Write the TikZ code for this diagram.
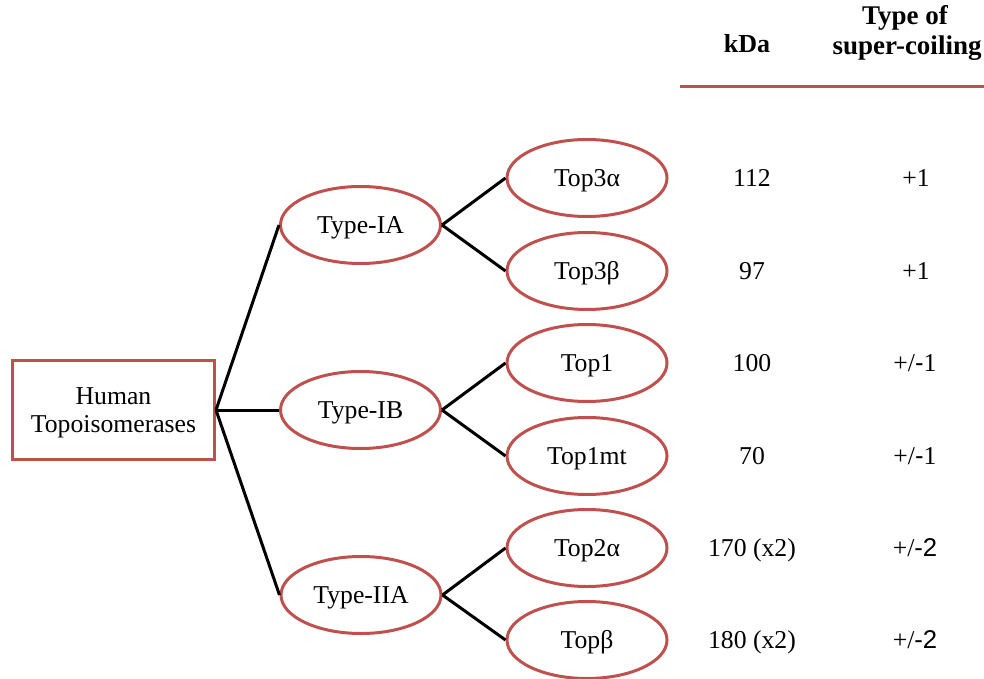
\documentclass[tikz,border=0pt]{standalone}
\usepackage{fontspec}
\setmainfont{Liberation Serif}
\newfontfamily\sansf{Liberation Sans}
\usetikzlibrary{shapes.geometric}
\definecolor{boxred}{HTML}{C0504D}
\begin{document}
\begin{tikzpicture}[x=1pt,y=-1pt,
  txt/.style={font=\fontsize{25.7}{30}\selectfont, inner sep=0pt, text height=17pt, text depth=0pt},
  rootbox/.style={draw=boxred, line width=3pt, rectangle, minimum width=202pt, minimum height=99pt, align=center, inner sep=0pt, text depth=0pt, font=\fontsize{25.7}{28}\selectfont},
  ell/.style={draw=boxred, line width=3pt, ellipse, minimum width=160pt, minimum height=77pt, inner sep=0pt, text height=17pt, text depth=0pt, font=\fontsize{25.7}{30}\selectfont},
  conn/.style={line width=3pt, black},
  hdr/.style={font=\bfseries\fontsize{27}{30}\selectfont, inner sep=0pt, anchor=base, align=center}
]
\useasboundingbox (0,0) rectangle (984,679);

\node[rootbox] (root) at (113.5,410) {Human\\Topoisomerases};

\node[ell] (ia) at (360.5,225) {Type-IA};
\node[ell] (ib) at (360.5,410) {Type-IB};
\node[ell] (iia) at (361,595) {Type-IIA};

\node[ell] (t3a) at (587,178) {Top3α};
\node[ell] (t3b) at (587,271) {Top3β};
\node[ell] (t1) at (587,363) {Top1};
\node[ell] (t1mt) at (587,456) {Top1mt};
\node[ell] (t2a) at (587,548) {Top2α};
\node[ell] (tb) at (587,640) {Topβ};

\draw[conn] (root.east) -- (ia.west);
\draw[conn] (root.east) -- (ib.west);
\draw[conn] (root.east) -- (iia.west);
\draw[conn] (ia.east) -- (t3a.west);
\draw[conn] (ia.east) -- (t3b.west);
\draw[conn] (ib.east) -- (t1.west);
\draw[conn] (ib.east) -- (t1mt.west);
\draw[conn] (iia.east) -- (t2a.west);
\draw[conn] (iia.east) -- (tb.west);

\node[hdr, font=\bfseries\fontsize{26}{30}\selectfont] (kda) at (747,53) {kDa};
\node[hdr] (toc) at (905,25) {Type of};
\node[hdr] (sc) at (907,55) {super-coiling};
\coordinate (ruleL) at (680,87);
\coordinate (ruleR) at (984,87);
\draw[boxred, line width=3pt] (ruleL) -- (ruleR);

\node[txt] (k1) at (752,178) {112};
\node[txt] (k2) at (752,271) {97};
\node[txt] (k3) at (752,363) {100};
\node[txt] (k4) at (752,456) {70};
\node[txt] (k5) at (752,548) {170 (x2)};
\node[txt] (k6) at (752,640) {180 (x2)};

\node[txt] (s1) at (916,178) {+1};
\node[txt] (s2) at (916,271) {+1};
\node[txt] (s3) at (915,363) {+/{\sansf -}1};
\node[txt] (s4) at (915,456) {+/{\sansf -}1};
\node[txt] (s5) at (915,548) {+/{\sansf -2}};
\node[txt] (s6) at (915,640) {+/{\sansf -2}};
\end{tikzpicture}
\end{document}
